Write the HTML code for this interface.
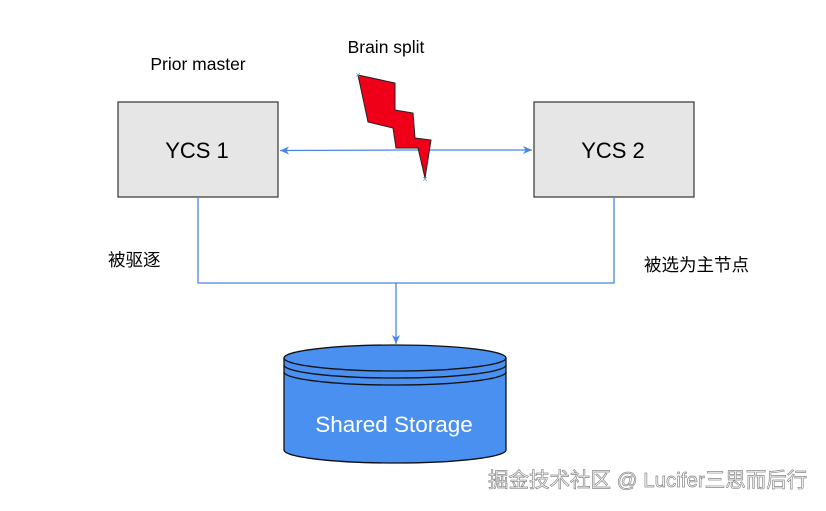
<!DOCTYPE html>
<html><head><meta charset="utf-8"><style>
body{margin:0;background:#fff;}
svg text{font-family:"Liberation Sans","Noto Sans CJK SC",sans-serif;}
</style></head><body>
<svg width="826" height="506" viewBox="0 0 826 506" xmlns="http://www.w3.org/2000/svg">
<defs><marker id="a" markerWidth="10" markerHeight="10" refX="9" refY="5" orient="auto" markerUnits="userSpaceOnUse"><path d="M0,1 L9,5 L0,9 L2.5,5 Z" fill="#4a86e8"/></marker></defs>
<rect x="118" y="102" width="160" height="95" fill="#e6e6e6" stroke="#333" stroke-width="1.2"/>
<rect x="534" y="102" width="160" height="95" fill="#e6e6e6" stroke="#333" stroke-width="1.2"/>
<text x="197" y="158" font-size="22" text-anchor="middle" fill="#000">YCS 1</text>
<text x="613" y="158" font-size="22" text-anchor="middle" fill="#000">YCS 2</text>
<line x1="405" y1="150" x2="280" y2="150.5" stroke="#4a86e8" stroke-width="1.3" marker-end="url(#a)"/>
<line x1="405" y1="150" x2="532" y2="150" stroke="#4a86e8" stroke-width="1.3" marker-end="url(#a)"/>
<polyline points="198,197 198,283 614,283 614,197" fill="none" stroke="#4a86e8" stroke-width="1.3"/>
<line x1="396" y1="283" x2="396" y2="344" stroke="#4a86e8" stroke-width="1.3" marker-end="url(#a)"/>
<polygon points="358,75 395,83 395,110 413,113 415,138 431,140 425,178 418,148 396,148 393,128 368,122" fill="#f00018" stroke="#222" stroke-width="1"/>
<text x="358" y="78" font-size="9" fill="#4aa3c8" text-anchor="middle">×</text>
<text x="425" y="182" font-size="9" fill="#4aa3c8" text-anchor="middle">×</text>
<path d="M284,358 L284,450 A111,13 0 0 0 506,450 L506,358" fill="#4a90f0" stroke="#111" stroke-width="1.3"/>
<ellipse cx="395" cy="358" rx="111" ry="13" fill="#4a90f0" stroke="#111" stroke-width="1.3"/>
<path d="M284,365 A111,13 0 0 0 506,365" fill="none" stroke="#111" stroke-width="1.3"/>
<path d="M284,372 A111,13 0 0 0 506,372" fill="none" stroke="#111" stroke-width="1.3"/>
<text x="394" y="432" font-size="22.5" text-anchor="middle" fill="#fff">Shared Storage</text>
<text x="198" y="70" font-size="17.5" text-anchor="middle" fill="#000">Prior master</text>
<text x="386" y="53" font-size="17.5" text-anchor="middle" fill="#000">Brain split</text>
<text x="108" y="266" font-size="17.5" fill="#000">被驱逐</text>
<text x="644" y="271" font-size="17.5" fill="#000">被选为主节点</text>
<text x="488" y="487" font-size="20.5" fill="#fff" stroke="#888" stroke-width="0.7">掘金技术社区 @ Lucifer三思而后行</text>
</svg>
</body></html>
